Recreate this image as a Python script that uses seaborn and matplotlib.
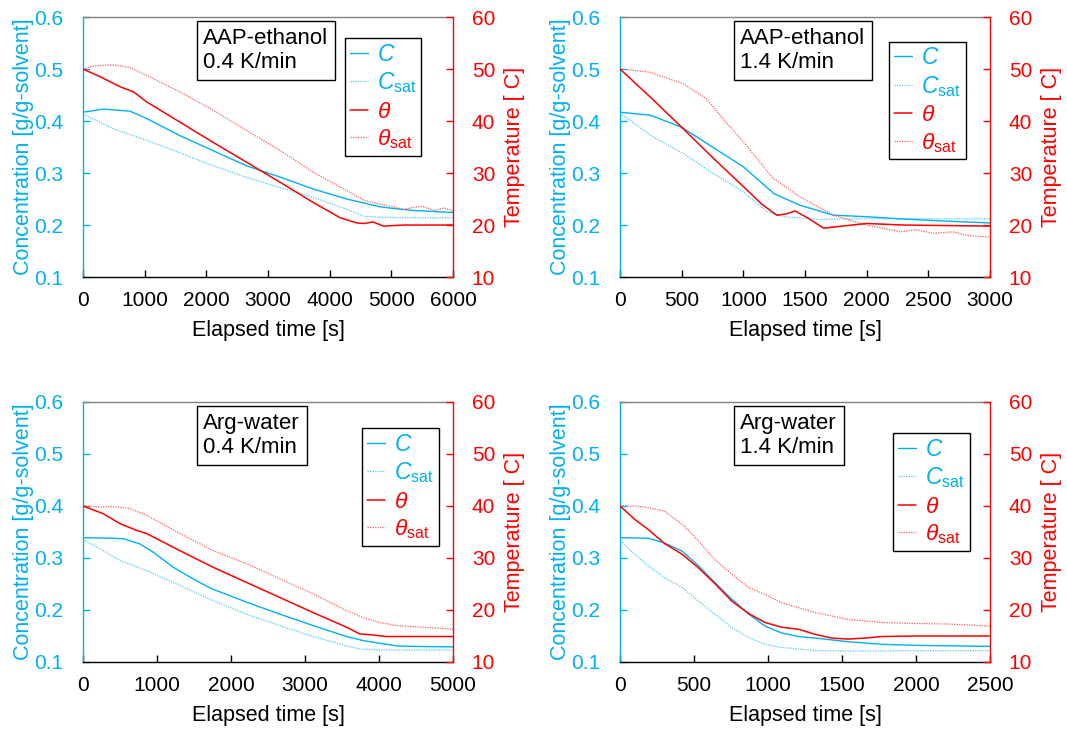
import matplotlib
matplotlib.use('Agg')
import matplotlib.pyplot as plt
import seaborn as sns

sns.set_theme(style='ticks')
plt.rcParams['font.family'] = ['Liberation Sans', 'DejaVu Sans']
plt.rcParams['mathtext.fontset'] = 'custom'
plt.rcParams['mathtext.rm'] = 'Liberation Sans'
plt.rcParams['mathtext.it'] = 'Liberation Sans:italic'
plt.rcParams['mathtext.default'] = 'it'

BLUE = '#00B0F0'
BLUE_DOT = '#4FC8F4'
RED = '#FF0000'
RED_DOT = '#FF5A5A'

# AAP-ethanol, 0.4 K/min
aap04_c_t = [0, 330, 760, 1030, 1570, 2110, 2650, 3200, 3740, 4280, 4820, 5100, 5360, 5700, 6000]
aap04_c = [0.417, 0.423, 0.419, 0.405, 0.372, 0.343, 0.314, 0.292, 0.269, 0.250, 0.235, 0.231, 0.228, 0.226, 0.224]
aap04_csat_t = [0, 220, 490, 1030, 1570, 2110, 2650, 3200, 3740, 4280, 4550, 4820, 5360, 6000]
aap04_csat = [0.413, 0.401, 0.385, 0.363, 0.339, 0.314, 0.292, 0.272, 0.253, 0.230, 0.217, 0.215, 0.214, 0.214]
aap04_th_t = [0, 280, 600, 820, 1030, 1570, 2110, 2650, 3200, 3740, 4170, 4440, 4560, 4700, 4870, 5200, 6000]
aap04_th = [50, 48.5, 46.6, 45.6, 43.7, 39.8, 35.9, 32.1, 28.2, 24.3, 21.4, 20.4, 20.3, 20.6, 19.8, 20.0, 20.0]
aap04_ths_t = [0, 170, 490, 760, 1030, 1570, 2110, 2650, 3200, 3740, 4280, 4550, 4820, 5000, 5200, 5360, 5500, 5700, 5850, 6000]
aap04_ths = [50, 50.6, 50.8, 50.3, 48.8, 45.6, 42.1, 38.2, 34.3, 30.1, 26.6, 24.8, 24.0, 23.6, 23.0, 23.4, 23.6, 22.8, 23.3, 22.7]

# AAP-ethanol, 1.4 K/min
aap14_c_t = [0, 250, 500, 750, 1000, 1250, 1460, 1730, 2000, 2270, 2600, 3000]
aap14_c = [0.417, 0.411, 0.388, 0.350, 0.312, 0.260, 0.238, 0.219, 0.216, 0.212, 0.208, 0.204]
aap14_csat_t = [0, 135, 250, 510, 750, 1000, 1190, 1325, 1600, 2000, 3000]
aap14_csat = [0.415, 0.392, 0.372, 0.338, 0.300, 0.264, 0.226, 0.216, 0.211, 0.212, 0.212]
aap14_th_t = [0, 250, 500, 750, 1000, 1150, 1270, 1340, 1420, 1520, 1650, 1800, 2000, 2300, 3000]
aap14_th = [50, 44.5, 38.8, 33.0, 27.4, 24.0, 21.9, 22.1, 22.7, 21.4, 19.4, 19.8, 20.3, 20.0, 19.8]
aap14_ths_t = [0, 240, 510, 700, 850, 1000, 1240, 1460, 1730, 2000, 2270, 2400, 2540, 2700, 2810, 3000]
aap14_ths = [50, 49.4, 47.2, 44.3, 40.0, 36.0, 29.0, 25.4, 21.9, 20.0, 18.7, 19.1, 18.4, 18.7, 18.0, 17.7]

# Arg-water, 0.4 K/min
arg04_c_t = [0, 410, 545, 770, 950, 1220, 1450, 1720, 2210, 2660, 3110, 3560, 3790, 4010, 4240, 4460, 5000]
arg04_c = [0.339, 0.338, 0.337, 0.327, 0.311, 0.282, 0.263, 0.242, 0.215, 0.192, 0.170, 0.149, 0.141, 0.136, 0.131, 0.130, 0.129]
arg04_csat_t = [0, 230, 500, 860, 1310, 1760, 2210, 2660, 3110, 3560, 3740, 4000, 5000]
arg04_csat = [0.335, 0.318, 0.295, 0.276, 0.247, 0.218, 0.192, 0.170, 0.149, 0.131, 0.125, 0.123, 0.123]
arg04_th_t = [0, 275, 500, 725, 860, 1310, 1760, 2210, 2660, 3110, 3560, 3740, 3920, 4100, 5000]
arg04_th = [40, 38.5, 36.6, 35.3, 34.7, 31.4, 28.2, 25.3, 22.4, 19.5, 16.7, 15.4, 15.2, 14.9, 14.9]
arg04_ths_t = [0, 230, 410, 635, 860, 1310, 1760, 2210, 2660, 3110, 3560, 3790, 4010, 4240, 4460, 5000]
arg04_ths = [40, 39.8, 39.9, 39.5, 38.2, 34.7, 31.4, 28.9, 26.0, 23.1, 19.9, 18.5, 17.6, 17.0, 16.8, 16.3]

# Arg-water, 1.4 K/min
arg14_c_t = [0, 190, 300, 420, 530, 640, 755, 870, 980, 1090, 1205, 1320, 1540, 1770, 2000, 2500]
arg14_c = [0.339, 0.338, 0.329, 0.313, 0.285, 0.253, 0.221, 0.192, 0.169, 0.156, 0.149, 0.146, 0.139, 0.134, 0.132, 0.130]
arg14_csat_t = [0, 100, 190, 300, 420, 530, 640, 755, 870, 980, 1090, 1320, 1540, 2500]
arg14_csat = [0.334, 0.307, 0.285, 0.262, 0.243, 0.217, 0.192, 0.166, 0.147, 0.134, 0.128, 0.122, 0.121, 0.122]
arg14_th_t = [0, 100, 190, 300, 420, 530, 640, 755, 870, 980, 1090, 1205, 1320, 1430, 1540, 1655, 1770, 2000, 2500]
arg14_th = [40, 37.4, 35.5, 32.8, 30.7, 28.1, 25.1, 21.7, 19.3, 17.6, 16.7, 16.3, 15.3, 14.6, 14.4, 14.6, 14.9, 15.0, 15.0]
arg14_ths_t = [0, 100, 190, 300, 420, 530, 640, 755, 870, 980, 1090, 1320, 1540, 1770, 2000, 2220, 2500]
arg14_ths = [40, 40, 39.7, 39.0, 36.5, 33.3, 29.7, 26.9, 24.3, 23.0, 21.4, 19.5, 18.2, 17.6, 17.4, 17.3, 16.9]

labels = [r'$C$', r'$C_{\mathrm{sat}}$', r'$\theta$', r'$\theta_{\mathrm{sat}}$']
dot = (0, (1, 1))
FS = 15.5


def panel(rect, data, xmax, xstep, note, box_x, leg_xy):
    c_t, c, cs_t, cs, th_t, th, ths_t, ths = data
    ax = fig.add_axes(rect)
    ax2 = ax.twinx()
    sns.lineplot(x=cs_t, y=cs, ax=ax, color=BLUE_DOT, lw=0.9, linestyle=dot)
    sns.lineplot(x=c_t, y=c, ax=ax, color=BLUE, lw=1.0)
    sns.lineplot(x=ths_t, y=ths, ax=ax2, color=RED_DOT, lw=0.9, linestyle=dot)
    sns.lineplot(x=th_t, y=th, ax=ax2, color=RED, lw=1.1)
    h_cs, h_c = ax.lines[0], ax.lines[1]
    h_ths, h_th = ax2.lines[0], ax2.lines[1]

    ax.set_xlim(0, xmax)
    ax.set_xticks(range(0, xmax + 1, xstep))
    ax.set_ylim(0.1, 0.6)
    ax.set_yticks([0.1, 0.2, 0.3, 0.4, 0.5, 0.6])
    ax.set_yticklabels(['0.1', '0.2', '0.3', '0.4', '0.5', '0.6'])
    ax2.set_ylim(10, 60)
    ax2.set_yticks([10, 20, 30, 40, 50, 60])

    ax.tick_params(axis='x', direction='in', length=5, width=1, colors='black',
                   labelsize=15, pad=10, bottom=True)
    ax.tick_params(axis='y', direction='in', length=5, width=1, colors=BLUE,
                   labelsize=15, pad=14, left=True)
    ax2.tick_params(axis='y', direction='in', length=5, width=1, colors=RED,
                    labelsize=15, pad=13.5, right=True)

    for s in ['top', 'bottom', 'left', 'right']:
        ax.spines[s].set_linewidth(1.0)
        ax2.spines[s].set_linewidth(1.0)
    ax.spines['left'].set_color(BLUE)
    ax.spines['top'].set_color('#808080')
    ax.spines['bottom'].set_color('black')
    ax.spines['right'].set_visible(False)
    ax2.spines['right'].set_color(RED)
    for s in ['top', 'bottom', 'left']:
        ax2.spines[s].set_visible(False)

    ax.set_xlabel('Elapsed time [s]', fontsize=FS, color='black', labelpad=7.5)
    ax.set_ylabel('Concentration [g/g-solvent]', fontsize=FS, color=BLUE, labelpad=0)
    ax2.set_ylabel('Temperature [ C]', fontsize=FS, color=RED, labelpad=6)

    ax2.text(box_x, 0.958, note, transform=ax2.transAxes, ha='left', va='top',
             fontsize=16, color='black', linespacing=1.2,
             bbox=dict(boxstyle='square,pad=0.3', fc='white', ec='black', lw=1.0))

    leg = ax2.legend([h_c, h_cs, h_th, h_ths], labels, loc='upper left',
                     bbox_to_anchor=leg_xy, frameon=True, fancybox=False,
                     fontsize=16.5, handlelength=0.8, handletextpad=0.4,
                     labelspacing=0.2, borderpad=0.2, borderaxespad=0,
                     labelcolor=[BLUE, BLUE, RED, RED])
    leg.get_frame().set_edgecolor('black')
    leg.get_frame().set_linewidth(1.0)
    leg.get_frame().set_facecolor('white')
    leg.get_frame().set_alpha(1)


fig = plt.figure(figsize=(10.67, 7.31), dpi=100)

panel([0.0778, 0.621, 0.3468, 0.3557],
      (aap04_c_t, aap04_c, aap04_csat_t, aap04_csat, aap04_th_t, aap04_th, aap04_ths_t, aap04_ths),
      6000, 1000, 'AAP-ethanol\n0.4 K/min', 0.325, (0.708, 0.919))
panel([0.5811, 0.621, 0.3468, 0.3557],
      (aap14_c_t, aap14_c, aap14_csat_t, aap14_csat, aap14_th_t, aap14_th, aap14_ths_t, aap14_ths),
      3000, 500, 'AAP-ethanol\n1.4 K/min', 0.325, (0.727, 0.905))
panel([0.0778, 0.0944, 0.3468, 0.3557],
      (arg04_c_t, arg04_c, arg04_csat_t, arg04_csat, arg04_th_t, arg04_th, arg04_ths_t, arg04_ths),
      5000, 1000, 'Arg-water\n0.4 K/min', 0.325, (0.754, 0.9))
panel([0.5811, 0.0944, 0.3468, 0.3557],
      (arg14_c_t, arg14_c, arg14_csat_t, arg14_csat, arg14_th_t, arg14_th, arg14_ths_t, arg14_ths),
      2500, 500, 'Arg-water\n1.4 K/min', 0.325, (0.738, 0.88))

fig.savefig('out.png', dpi=100)
